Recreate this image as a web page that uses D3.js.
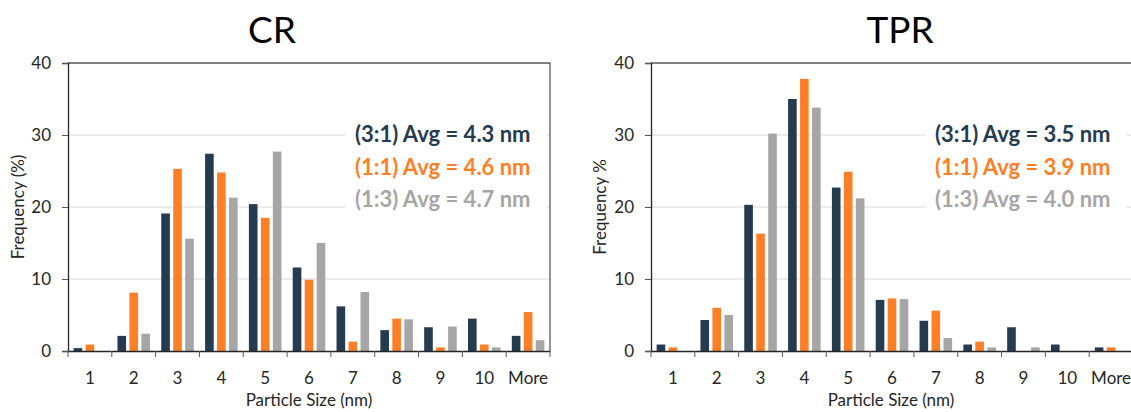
<!DOCTYPE html>
<html>
<head>
<meta charset="utf-8">
<script src="https://cdn.jsdelivr.net/npm/d3@7"></script>
<style>
  body { margin: 0; background: #fff; }
  text { font-family: Lato, "Open Sans", sans-serif; }
</style>
</head>
<body>
<div id="chart"></div>
<script>
// data
var sizes = ["1", "2", "3", "4", "5", "6", "7", "8", "9", "10", "More"];
var ratios = ["3:1", "1:1", "1:3"];
var yTicks = [0, 10, 20, 30, 40];

var crValues = {
  "3:1": [0.4, 2.1, 19.1, 27.4, 20.4, 11.6, 6.2, 2.9, 3.3, 4.5, 2.1],
  "1:1": [0.9, 8.1, 25.3, 24.8, 18.5, 9.9, 1.3, 4.5, 0.5, 0.9, 5.4],
  "1:3": [0, 2.4, 15.6, 21.3, 27.7, 15.0, 8.2, 4.4, 3.4, 0.5, 1.5]
};
var tprValues = {
  "3:1": [0.9, 4.3, 20.3, 35.0, 22.7, 7.1, 4.2, 0.9, 3.3, 0.9, 0.5],
  "1:1": [0.5, 6.0, 16.3, 37.8, 24.9, 7.3, 5.6, 1.3, 0, 0, 0.5],
  "1:3": [0, 5.0, 30.2, 33.8, 21.2, 7.2, 1.8, 0.5, 0.5, 0, 0]
};
var crAvg = ["4.3", "4.6", "4.7"];
var tprAvg = ["3.5", "3.9", "4.0"];

var colors = ["#253b50", "#ff7f27", "#a6a6a6"];

var svg = d3.select("#chart")
  .append("svg")
  .attr("width", 1131)
  .attr("height", 412);

function drawChart(opt) {
  var x = d3.scaleBand()
    .domain(sizes)
    .range([opt.x0, opt.x1]);

  var xSub = d3.scaleBand()
    .domain(ratios)
    .range([0, x.bandwidth()])
    .paddingInner(0.28)
    .paddingOuter(0.47);

  var y = d3.scaleLinear()
    .domain([0, 40])
    .range([351, 63]);

  var g = svg.append("g");

  // gridlines
  g.selectAll(".grid")
    .data([10, 20, 30])
    .enter()
    .append("line")
    .attr("x1", opt.x0)
    .attr("x2", opt.x1)
    .attr("y1", d => y(d))
    .attr("y2", d => y(d))
    .attr("stroke", "#d9d9d9")
    .attr("stroke-width", 1);

  // plot frame, top and right
  g.append("path")
    .attr("d", `M${opt.x0},${y(40)}H${opt.x1}V${y(0)}`)
    .attr("fill", "none")
    .attr("stroke", "#595959")
    .attr("stroke-width", 1.3);

  // bars
  ratios.forEach(function(r, i) {
    g.append("g").selectAll("rect")
      .data(opt.values[r])
      .enter()
      .append("rect")
      .attr("x", (d, j) => x(sizes[j]) + xSub(r))
      .attr("width", xSub.bandwidth())
      .attr("y", d => y(d))
      .attr("height", d => y(0) - y(d))
      .attr("fill", colors[i]);
  });

  // y axis
  var yAxis = g.append("g")
    .attr("transform", `translate(${opt.x0},0)`)
    .call(d3.axisLeft(y).tickValues(yTicks).tickSize(6).tickPadding(11));
  yAxis.select(".domain").attr("stroke", "#262626").attr("stroke-width", 1.3);
  yAxis.selectAll(".tick line").attr("stroke", "#595959");
  yAxis.selectAll("text")
    .style("font-size", "17px")
    .attr("fill", "#262626");

  // x axis with ticks at category edges
  var xAxis = g.append("g")
    .attr("transform", `translate(0,${y(0)})`)
    .call(d3.axisBottom(x).tickSize(0).tickPadding(21));
  xAxis.select(".domain").attr("stroke", "#262626").attr("stroke-width", 1.3);
  xAxis.selectAll("text")
    .style("font-size", "17px")
    .attr("fill", "#262626");

  var edges = sizes.map(d => x(d)).concat([opt.x1]);
  xAxis.selectAll(".edge")
    .data(edges)
    .enter()
    .append("line")
    .attr("x1", d => d)
    .attr("x2", d => d)
    .attr("y1", 0)
    .attr("y2", 6)
    .attr("stroke", "#595959");

  // titles
  g.append("text")
    .attr("x", opt.titleX)
    .attr("y", 43)
    .attr("text-anchor", "middle")
    .style("font-size", "37px")
    .attr("fill", "#000")
    .text(opt.title);

  g.append("text")
    .attr("x", (opt.x0 + opt.x1) / 2 - (opt.x1 > 1131 ? 1 : 0))
    .attr("y", 406)
    .attr("text-anchor", "middle")
    .style("font-size", "17px")
    .attr("fill", "#262626")
    .text("Particle Size (nm)");

  g.append("text")
    .attr("transform", `translate(${opt.yLabelX},207) rotate(-90)`)
    .attr("text-anchor", "middle")
    .style("font-size", "17px")
    .attr("fill", "#262626")
    .text(opt.yLabel);

  // legend with white background over the gridlines
  g.append("rect")
    .attr("x", opt.legendX - 10)
    .attr("y", 118)
    .attr("width", 202)
    .attr("height", 96)
    .attr("fill", "#fff");

  ratios.forEach(function(r, i) {
    g.append("text")
      .attr("x", opt.legendX)
      .attr("y", 142 + i * 32.5)
      .style("font-size", "22px")
      .style("font-weight", "bold")
      .attr("fill", colors[i])
      .text(`(${r}) Avg = ${opt.avg[i]} nm`);
  });
}

drawChart({
  title: "CR",
  titleX: 272,
  x0: 68,
  x1: 550,
  values: crValues,
  avg: crAvg,
  yLabel: "Frequency (%)",
  yLabelX: 24,
  legendX: 355
});

drawChart({
  title: "TPR",
  titleX: 900,
  x0: 651,
  x1: 1133,
  values: tprValues,
  avg: tprAvg,
  yLabel: "Frequency %",
  yLabelX: 606,
  legendX: 935
});
</script>
</body>
</html>
